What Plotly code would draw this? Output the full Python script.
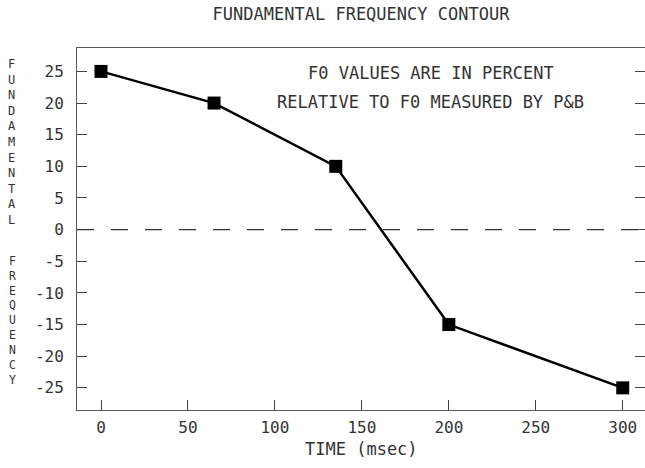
import plotly.graph_objects as go

# Data
time_ms = [0, 65, 135, 200, 300]
f0_percent = [25, 20, 10, -15, -25]
x_ticks = [0, 50, 100, 150, 200, 250, 300]
y_ticks = [-25, -20, -15, -10, -5, 0, 5, 10, 15, 20, 25]

FONT = "DejaVu Sans Mono"
TXT = "#333333"
FS = 16
FS_TEXT = 17

fig = go.Figure()
fig.add_trace(go.Scatter(
    x=time_ms, y=f0_percent, mode="lines+markers",
    line=dict(color="black", width=2.5),
    marker=dict(symbol="square", size=13, color="black"),
    showlegend=False, cliponaxis=False,
))
fig.add_hline(y=0, line=dict(color="#333333", width=1.2, dash="17px,17px"))

fig.update_layout(
    width=645, height=468,
    margin=dict(l=77, r=0, t=48, b=58, autoexpand=False),
    paper_bgcolor="white", plot_bgcolor="white",
    font=dict(family=FONT, color=TXT, size=FS),
    title=dict(text="FUNDAMENTAL FREQUENCY CONTOUR", x=0.5, xref="paper",
               y=1 - 14 / 468, yref="container", yanchor="middle",
               font=dict(family=FONT, size=FS_TEXT, color=TXT)),
)
fig.update_xaxes(
    range=[-13.8, 312.8], tickvals=x_ticks, ticktext=[str(v) for v in x_ticks],
    ticks="inside", ticklen=10, tickcolor="#444", tickwidth=1,
    showline=True, linecolor="#555", linewidth=1, mirror=True,
    showgrid=False, zeroline=False, ticklabelstandoff=3,
    tickfont=dict(family=FONT, size=FS, color=TXT),
)
fig.update_yaxes(
    range=[-28.5, 28.7], tickvals=y_ticks, ticktext=[str(v) for v in y_ticks],
    ticks="inside", ticklen=10, tickcolor="#444", tickwidth=1,
    showline=True, linecolor="#555", linewidth=1, mirror="ticks",
    showgrid=False, zeroline=False, ticklabelstandoff=9,
    tickfont=dict(family=FONT, size=FS, color=TXT),
)

ann = [
    dict(text="F0 VALUES ARE IN PERCENT", x=0.623, y=0.931),
    dict(text="RELATIVE TO F0 MEASURED BY P&B", x=0.623, y=0.851),
    dict(text="TIME (msec)", x=0.5, y=-0.1077),
    dict(text="<br>".join("FUNDAMENTAL"), x=-0.1144, y=0.7417, size=12),
    dict(text="<br>".join("FREQUENCY"), x=-0.1144, y=0.2459, size=11.4),
]
for a in ann:
    fig.add_annotation(
        text=a["text"], x=a["x"], y=a["y"], xref="paper", yref="paper",
        xanchor="center", yanchor="middle", showarrow=False,
        font=dict(family=FONT, size=a.get("size", FS_TEXT), color=TXT),
    )

fig.write_html("out.html", config={"displayModeBar": False},
               post_script="document.body.style.margin='0';document.body.style.overflow='hidden';")
